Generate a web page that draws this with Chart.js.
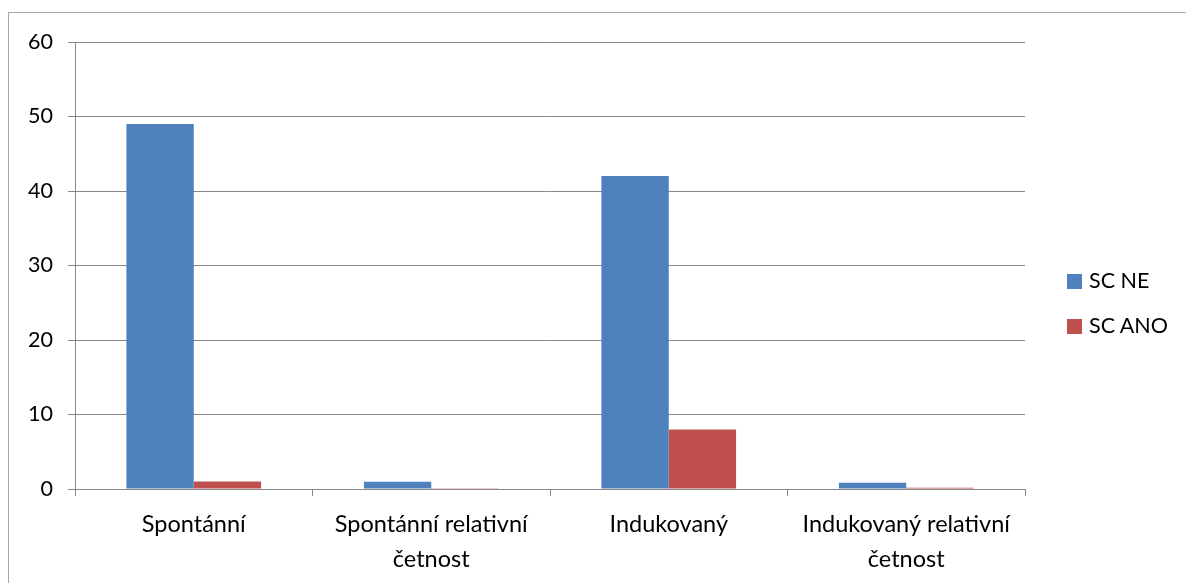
<!DOCTYPE html>
<html>
<head>
<meta charset="utf-8">
<script src="https://cdn.jsdelivr.net/npm/chart.js@4"></script>
<style>
  html, body { margin: 0; padding: 0; background: #fff; overflow: hidden; }
  #wrap { position: relative; width: 1186px; height: 583px; }
  #frame { position: absolute; left: 8px; top: 12px; width: 1200px; height: 620px; border: 1px solid #a6a6a6; box-sizing: border-box; }
  #chartCanvas { position: absolute; left: 0; top: 0; }
  #legend-div { position: absolute; left: 1067px; top: 265px; font-family: Lato, sans-serif; font-size: 21.5px; color: #000; }
  #legend-div ul { list-style: none; margin: 0; padding: 0; }
  #legend-div li { height: 45px; line-height: 30px; white-space: nowrap; }
  #legend-div span { display: inline-block; width: 15px; height: 15px; margin-right: 7px; vertical-align: -1px; }
</style>
</head>
<body>
<div id="wrap">
  <div id="frame"></div>
  <canvas id="chartCanvas" width="1186" height="583"></canvas>
  <div id="legend-div"></div>
</div>
<script>
const categories = [['Spontánní'], ['Spontánní relativní', 'četnost'], ['Indukovaný'], ['Indukovaný relativní', 'četnost']];
const seriesNames = ['SC NE', 'SC ANO'];
const scNe = [49, 0.98, 42, 0.84];
const scAno = [1, 0.02, 8, 0.16];
const yTicks = [0, 10, 20, 30, 40, 50, 60];

const blue = '#4f81bd';
const red = '#c0504d';
const axisGrey = '#888888';

Chart.defaults.font.family = 'Lato, sans-serif';
Chart.defaults.font.size = 21.5;
Chart.defaults.color = '#000';

const pad = { left: 8, right: 161, top: 42, bottom: 0 };

let ctx = document.getElementById('chartCanvas').getContext('2d');

window.barChart = new Chart(ctx, {
    type: 'bar',
    data: {
        labels: categories,
        datasets: [
            { label: seriesNames[0], data: scNe, backgroundColor: blue },
            { label: seriesNames[1], data: scAno, backgroundColor: red }
        ]
    },
    options: {
        responsive: false,
        animation: false,
        layout: { padding: pad },
        categoryPercentage: 0.567,
        barPercentage: 1,
        plugins: {
            legend: { display: false },
            tooltip: { enabled: false }
        },
        scales: {
            x: {
                grid: { drawOnChartArea: false, drawTicks: true, tickLength: 7, color: axisGrey, lineWidth: 1 },
                border: { color: axisGrey, width: 1 },
                ticks: { padding: 11, maxRotation: 0, autoSkip: false, font: { size: 23.5, lineHeight: 1.49 } },
                afterFit: function (scale) { scale.height = 583 - 489 - pad.bottom; }
            },
            y: {
                min: 0,
                max: 60,
                afterBuildTicks: function (scale) { scale.ticks = yTicks.map(function (v) { return { value: v }; }); },
                grid: { color: axisGrey, lineWidth: 1, drawTicks: true, tickLength: 7 },
                border: { color: axisGrey, width: 1 },
                ticks: { padding: 15 },
                afterFit: function (scale) { scale.width = 75 - pad.left; }
            }
        }
    }
});

// legend built from the chart's datasets
let ul = document.createElement('ul');
window.barChart.data.datasets.forEach(function (ds) {
    ul.innerHTML += "<li><span style='background-color: " + ds.backgroundColor + "'></span>" + ds.label + "</li>";
});
document.getElementById('legend-div').appendChild(ul);
</script>
</body>
</html>
